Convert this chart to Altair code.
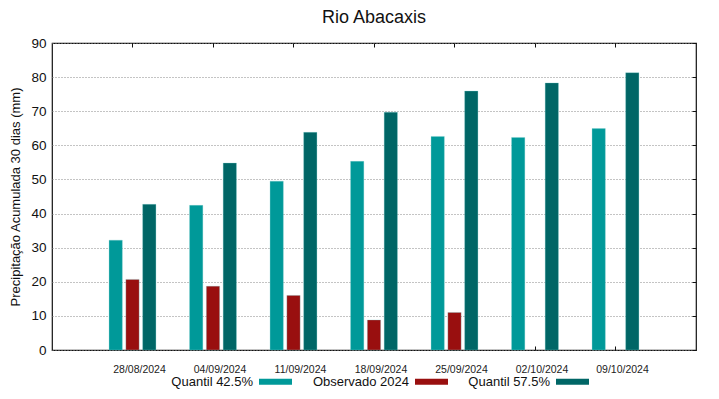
import altair as alt
import pandas as pd

dates = ["28/08/2024", "04/09/2024", "11/09/2024", "18/09/2024", "25/09/2024", "02/10/2024", "09/10/2024"]
series = ["Quantil 42.5%", "Observado 2024", "Quantil 57.5%"]
q425 = [32.2, 42.4, 49.5, 55.3, 62.6, 62.3, 64.9]
obs2024 = [20.7, 18.7, 16.0, 8.8, 11.0, None, None]
q575 = [42.7, 54.8, 63.8, 69.7, 75.9, 78.3, 81.3]
colors = ["#009999", "#990f0f", "#006666"]
y_ticks = [0, 10, 20, 30, 40, 50, 60, 70, 80, 90]

rows = []
for i, d in enumerate(dates):
    for s, vals in zip(series, [q425, obs2024, q575]):
        if vals[i] is not None:
            rows.append({"date": d, "series": s, "value": vals[i]})
df = pd.DataFrame(rows)

font = "Liberation Sans"

x_scale = alt.Scale(paddingInner=0, paddingOuter=0.5)
y_scale = alt.Scale(domain=[0, 90], nice=False)
off_enc = alt.XOffset("series:N", sort=series, scale=alt.Scale(paddingInner=0.21, paddingOuter=1))

bars = alt.Chart(df).mark_bar(stroke="#7fd0d0", strokeWidth=0.5, strokeOpacity=0.6).encode(
    x=alt.X("date:N", sort=dates, scale=x_scale,
            axis=alt.Axis(title=None, labelAngle=0, labelFontSize=10.5, labelColor="#222",
                          ticks=True, tickSize=4, tickColor="#111", offset=-4,
                          domain=False, labelPadding=14, labelOffset=7, labelFont=font)),
    xOffset=off_enc,
    y=alt.Y("value:Q", scale=y_scale,
            axis=alt.Axis(title="Precipitação Acumulada 30 dias (mm)", values=y_ticks,
                          titleFontSize=13, titleFontWeight="normal", titleColor="#111",
                          titleFont=font, labelFont=font, labelFontSize=13.5, labelColor="#111",
                          labelPadding=6, ticks=False, domain=False, titlePadding=8,
                          grid=True, gridDash=[1, 2], gridColor="#888", gridWidth=1)),
    color=alt.Color("series:N", sort=series,
                    scale=alt.Scale(domain=series, range=colors),
                    legend=alt.Legend(title=None, orient="none", direction="horizontal",
                                      legendX=168, legendY=322,
                                      symbolType="M-1,-0.18H1V0.18H-1Z", symbolSize=1089,
                                      symbolStrokeWidth=0, symbolOpacity=1,
                                      symbolOffset=39, labelAlign="right",
                                      labelOffset={"expr": "-39"},
                                      labelFontSize=13, labelFont=font, labelColor="#111",
                                      columnPadding=20)),
)

mirror = alt.Chart(df).mark_bar(opacity=0).encode(
    x=alt.X("date:N", sort=dates, scale=x_scale,
            axis=alt.Axis(title=None, orient="top", labels=False, domain=False, grid=False,
                          ticks=True, tickSize=4, tickColor="#111", offset=-4)),
    xOffset=off_enc,
    y=alt.Y("value:Q", scale=y_scale,
            axis=alt.Axis(title=None, orient="right", labels=False, domain=False, grid=False,
                          values=y_ticks, ticks=True, tickSize=4, tickColor="#111", offset=-4)),
)

chart = alt.layer(bars, mirror).resolve_axis(x="independent", y="independent").properties(
    width=644, height=307,
    title=alt.TitleParams("Rio Abacaxis", fontSize=18, fontWeight="normal", font=font,
                          color="#111", offset=9),
    autosize=alt.AutoSizeParams(type="none"),
    padding={"left": 44, "top": 35, "right": 15, "bottom": 41},
).configure_view(stroke="#111", strokeWidth=1.2)

chart.save("out.html", embed_options={"renderer": "svg", "actions": False})
